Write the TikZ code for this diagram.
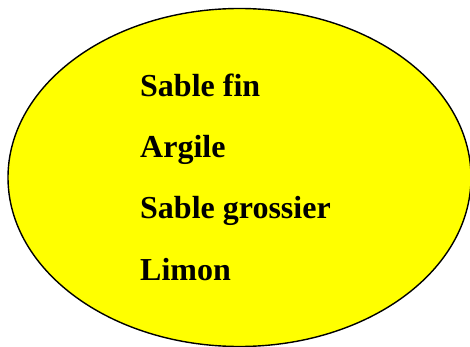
\documentclass[tikz,border=0pt]{standalone}
\usepackage{fontspec}
\setmainfont{Liberation Serif}
\definecolor{fillyellow}{RGB}{255,255,0}
\begin{document}
\begin{tikzpicture}[x=1pt,y=-1pt,
  lbl/.style={anchor=base west,inner sep=0pt,font=\fontsize{32}{36}\selectfont\bfseries}]
\useasboundingbox (0,0) rectangle (470,347);
\clip (0,0) rectangle (470,347);
\draw[fill=fillyellow,line width=1.4pt] (239.5,177.5) ellipse [x radius=231.5,y radius=169];
\node[lbl] (a) at (140,97) {Sable fin};
\node[lbl] (b) at (140,158) {Argile};
\node[lbl] (c) at (140,218) {Sable grossier};
\node[lbl] (d) at (140,280) {Limon};
\end{tikzpicture}
\end{document}
